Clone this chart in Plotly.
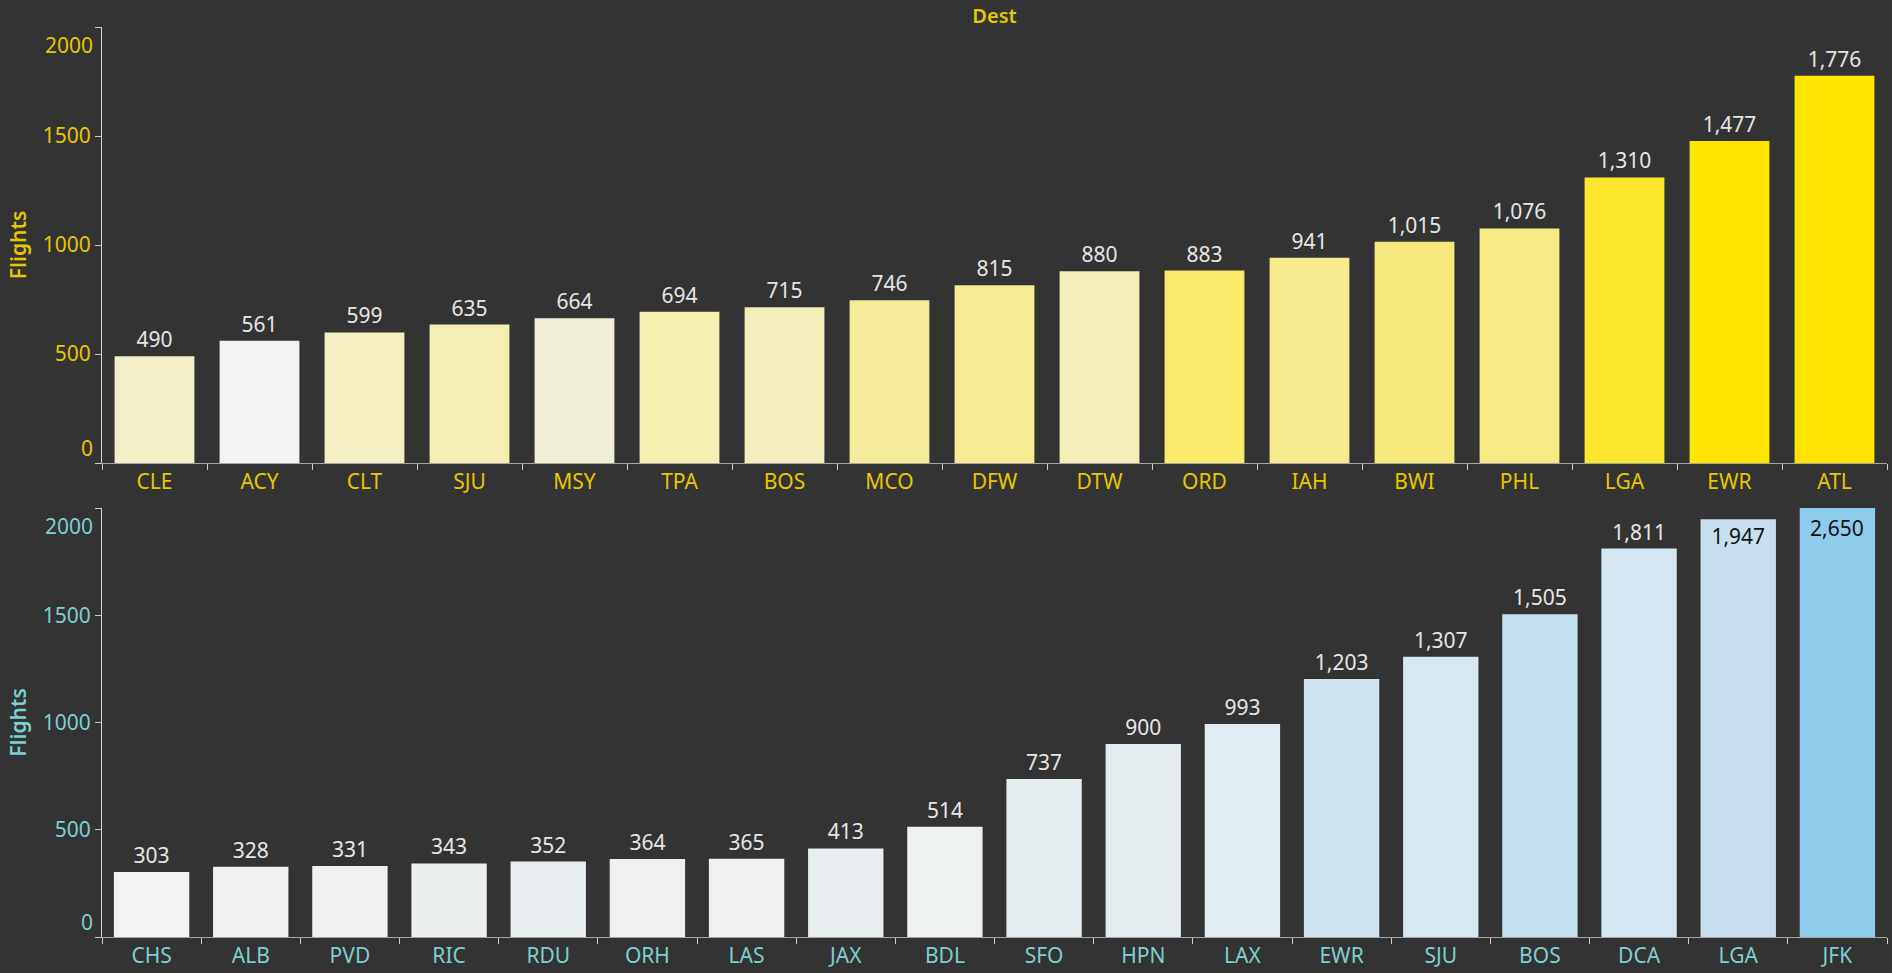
import plotly.graph_objects as go

# ---- data ----
top_cats = ["CLE", "ACY", "CLT", "SJU", "MSY", "TPA", "BOS", "MCO", "DFW",
            "DTW", "ORD", "IAH", "BWI", "PHL", "LGA", "EWR", "ATL"]
top_vals = [490, 561, 599, 635, 664, 694, 715, 746, 815,
            880, 883, 941, 1015, 1076, 1310, 1477, 1776]
top_colors = ["#f2efc6", "#f2f2f2", "#f3efc0", "#f4eeb4", "#f1eed8", "#f4eeb0",
              "#f3eebc", "#f4eb9a", "#f5ec93", "#f3efb6", "#f8ea6a", "#f6ea8f",
              "#f6e97c", "#f6ea84", "#fce62e", "#ffe500", "#ffe500"]

bot_cats = ["CHS", "ALB", "PVD", "RIC", "RDU", "ORH", "LAS", "JAX", "BDL",
            "SFO", "HPN", "LAX", "EWR", "SJU", "BOS", "DCA", "LGA", "JFK"]
bot_vals = [303, 328, 331, 343, 352, 364, 365, 413, 514,
            737, 900, 993, 1203, 1307, 1505, 1811, 1947, 2650]
bot_colors = ["#f2f2f2", "#eff1f0", "#eef0f1", "#ecf0f1", "#e9eef0", "#eff1f0",
              "#eef0f1", "#e8eef0", "#eef1f2", "#e4ecef", "#e3ebee", "#e1ebf2",
              "#cde3ef", "#d8e8f0", "#c4e0ee", "#d3e6f1", "#c8e0ee", "#8ccbea"]

y_ticks = [0, 500, 1000, 1500, 2000]
Y_MAX = 2000

BG = "#333333"
YELLOW = "#e6c700"
TEAL = "#7ecfd2"
LABEL = "#e6e6e6"
FONT = "Noto Sans"
FS = 21

def label_props(vals):
    texts, pos, cols = [], [], []
    for v in vals:
        if v > Y_MAX:
            texts.append("")
            pos.append("none")
            cols.append("#111111")
        elif v > Y_MAX * 0.95:
            texts.append(f"{v:,}")
            pos.append("inside")
            cols.append("#111111")
        else:
            texts.append(f"{v:,}")
            pos.append("outside")
            cols.append(LABEL)
    return texts, pos, cols

fig = go.Figure()

t_text, t_pos, t_col = label_props(top_vals)
fig.add_trace(go.Bar(
    x=top_cats, y=top_vals, marker=dict(color=top_colors, line=dict(width=0)),
    text=t_text, textposition=t_pos, insidetextanchor="end",
    textfont=dict(color=t_col, size=FS, family=FONT),
    constraintext="none", cliponaxis=False,
    xaxis="x", yaxis="y", hoverinfo="x+y", showlegend=False,
))

b_text, b_pos, b_col = label_props(bot_vals)
fig.add_trace(go.Bar(
    x=bot_cats, y=bot_vals, marker=dict(color=bot_colors, line=dict(width=0)),
    text=b_text, textposition=b_pos, insidetextanchor="end",
    textfont=dict(color=b_col, size=FS, family=FONT),
    constraintext="none", cliponaxis=True,
    xaxis="x2", yaxis="y2", hoverinfo="x+y", showlegend=False,
))

annotations = []
for c, v in zip(bot_cats, bot_vals):
    if v > Y_MAX:
        annotations.append(dict(
            x=c, y=Y_MAX, xref="x2", yref="y2", text=f"{v:,}", showarrow=False,
            yanchor="top", yshift=-4, font=dict(color="#111111", size=FS, family=FONT),
        ))

W, H = 1892, 973
xl, xr = 102 / W, 1887 / W
top_dom = [1 - 463 / H, 1 - 27 / H]
bot_dom = [1 - 937 / H, 1 - 508 / H]

# end tick labels are nudged inside the pane (as in the original), drawn as annotations
y_min, y_max = y_ticks[0], y_ticks[-1]
tick_text = ["" if t in (y_min, y_max) else str(t) for t in y_ticks]
for yref, color in (("y", YELLOW), ("y2", TEAL)):
    annotations.append(dict(
        x=xl, y=y_min, xref="paper", yref=yref, text=str(y_min), showarrow=False,
        xanchor="right", yanchor="bottom", xshift=-7, yshift=-1,
        font=dict(color=color, size=FS, family=FONT),
    ))
    annotations.append(dict(
        x=xl, y=y_max, xref="paper", yref=yref, text=str(y_max), showarrow=False,
        xanchor="right", yanchor="top", xshift=-7, yshift=-2,
        font=dict(color=color, size=FS, family=FONT),
    ))

def xaxis(dom_anchor, color):
    return dict(
        domain=[xl, xr], anchor=dom_anchor, showgrid=False, zeroline=False, automargin=False,
        showline=True, linecolor="#a6a6a6", linewidth=1,
        ticks="outside", tickson="boundaries", ticklen=6, tickcolor="#cccccc",
        tickfont=dict(color=color, size=FS, family=FONT),
    )

def yaxis(dom, anchor, color):
    return dict(
        domain=dom, anchor=anchor, range=[0, Y_MAX], tickvals=y_ticks, ticktext=tick_text,
        showgrid=False, zeroline=False, showline=True, linecolor="#d9d9d9", linewidth=1,
        automargin=False,
        ticks="outside", ticklen=6, tickcolor="#cccccc",
        tickfont=dict(color=color, size=FS, family=FONT),
        title=dict(text="Flights", font=dict(color=color, size=FS, family=FONT, weight=600),
                   standoff=10),
    )

fig.update_layout(
    width=W, height=H, autosize=False,
    paper_bgcolor=BG, plot_bgcolor=BG,
    margin=dict(l=0, r=0, t=0, b=0, pad=0, autoexpand=False),
    bargap=0.24,
    font=dict(family=FONT, color=LABEL),
    title=dict(text="Dest", x=(xl + xr) / 2, xanchor="center", y=1 - 16 / H, yanchor="middle",
               automargin=False,
               font=dict(color=YELLOW, size=20, family=FONT, weight=600)),
    xaxis=xaxis("y", YELLOW),
    yaxis=yaxis(top_dom, "x", YELLOW),
    xaxis2=xaxis("y2", TEAL),
    yaxis2=yaxis(bot_dom, "x2", TEAL),
    annotations=annotations,
)

post = ("document.documentElement.style.margin='0';document.body.style.margin='0';"
        "document.body.style.padding='0';document.body.style.overflow='hidden';"
        "document.body.style.background='#333333';")

fig.write_html("out.html", post_script=post, config={"displayModeBar": False})
